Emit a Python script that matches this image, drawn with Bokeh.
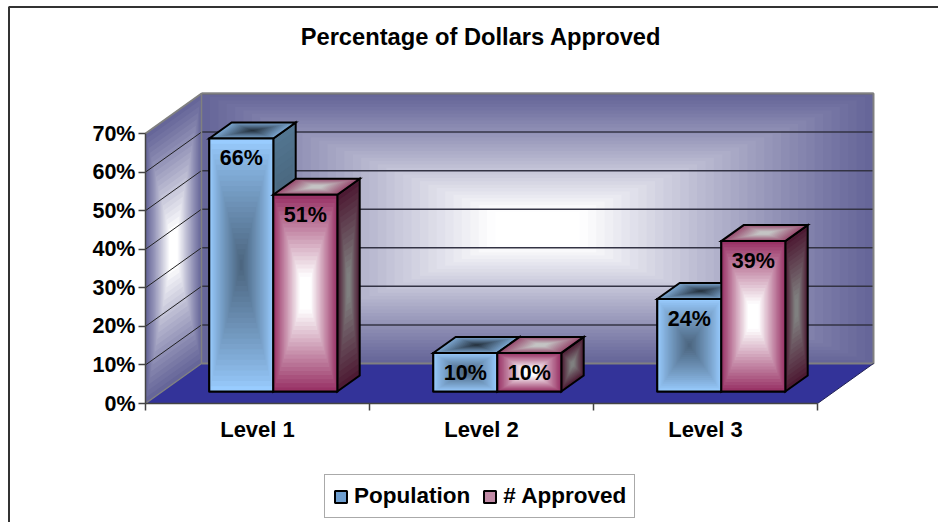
from bokeh.plotting import figure
from bokeh.models import Range1d, LinearAxis, FixedTicker, PrintfTickFormatter, Legend, LegendItem
from bokeh.core.properties import value
from bokeh.embed import file_html
from bokeh.resources import INLINE

# ---- data
categories = ["Level 1", "Level 2", "Level 3"]
population = [65.6, 10, 24]
approved = [51, 10, 39]
population_labels = ["66%", "10%", "24%"]
approved_labels = ["51%", "10%", "39%"]
y_ticks = [0, 10, 20, 30, 40, 50, 60, 70]
title_text = "Percentage of Dollars Approved"
series_names = ["Population", "# Approved"]

FONT = value("Liberation Sans")

# ---- scales: one category = 224 px, 10 % = 38.57 px
PX_X = 224.0
PX_Y = 3.857
X0, Y0 = 145.0, 403.0   # picture position of the origin
W, H = 938, 522


def px_x(px):
    return (px - X0) / PX_X


def px_y(py):
    return (Y0 - py) / PX_Y


DX = 56 / PX_X   # oblique shift of the full floor depth
DY = 40 / PX_Y


def proj(u, y, d):
    return (u + d * DX, y + d * DY)


def mix(c0, c1, m):
    a = [int(c0[i:i + 2], 16) for i in (1, 3, 5)]
    b = [int(c1[i:i + 2], 16) for i in (1, 3, 5)]
    return "#%02x%02x%02x" % tuple(round(p + (q - p) * m) for p, q in zip(a, b))


p = figure(width=W, height=H, x_range=Range1d(px_x(0), px_x(W)),
           y_range=Range1d(px_y(H), px_y(0)), x_axis_type=None, y_axis_type=None,
           output_backend="svg", toolbar_location=None, min_border=0,
           outline_line_color=None, background_fill_color="white",
           border_fill_color="white")


def face(quad, outer, inner, steps, plateau=1.0, power=1.0):
    """Rectangular path gradient: nested copies of a quad."""
    cx = sum(q[0] for q in quad) / 4
    cy = sum(q[1] for q in quad) / 4
    xs, ys, cols = [], [], []
    for i in range(steps):
        t = 1 - i / steps
        xs.append([cx + (q[0] - cx) * t for q in quad])
        ys.append([cy + (q[1] - cy) * t for q in quad])
        m = min(1.0, (i / (steps - 1)) / plateau) ** power
        cols.append(mix(outer, inner, m))
    p.patches(xs, ys, fill_color=cols, line_color=None)


# ---- outer frame of the chart (top and left only)
p.line([px_x(8.5), px_x(8.5), px_x(938)], [px_y(522), px_y(6.5), px_y(6.5)],
       line_color="#333333", line_width=2)

# ---- walls and floor
TOP = y_ticks[-1]
N = len(categories)
back = [proj(0, 0, 1), proj(N, 0, 1), proj(N, TOP, 1), proj(0, TOP, 1)]
side = [proj(0, 0, 0), proj(0, 0, 1), proj(0, TOP, 1), proj(0, TOP, 0)]
floor = [proj(0, 0, 0), proj(N, 0, 0), proj(N, 0, 1), proj(0, 0, 1)]
face(back, "#666699", "#ffffff", 40, plateau=0.88, power=1.1)
face(side, "#666699", "#ffffff", 24, plateau=0.88, power=1.1)
p.patch([q[0] for q in floor], [q[1] for q in floor], fill_color="#333399", line_color=None)

# gridlines
gy = y_ticks[1:]
p.segment([proj(0, v, 1)[0] for v in gy], [proj(0, v, 1)[1] for v in gy],
          [proj(N, v, 1)[0] for v in gy], [proj(N, v, 1)[1] for v in gy],
          line_color="#333344", line_width=1.5)
sy = y_ticks[1:-1]
p.segment([proj(0, v, 0)[0] for v in sy], [proj(0, v, 0)[1] for v in sy],
          [proj(0, v, 1)[0] for v in sy], [proj(0, v, 1)[1] for v in sy],
          line_color="#222222", line_width=1)
# wall edges
outline = [proj(0, 0, 0), proj(0, 0, 1), proj(N, 0, 1), proj(N, TOP, 1), proj(0, TOP, 1), proj(0, TOP, 0)]
p.line([q[0] for q in outline[1:5]], [q[1] for q in outline[1:5]], line_color="#808080", line_width=2)
p.line([outline[0][0], outline[1][0]], [outline[0][1], outline[1][1]], line_color="#808080", line_width=1.5)
p.line([proj(0, TOP, 0)[0], proj(0, TOP, 1)[0]], [proj(0, TOP, 0)[1], proj(0, TOP, 1)[1]],
       line_color="#808080", line_width=2)
p.line([proj(0, 0, 1)[0], proj(0, TOP, 1)[0]], [proj(0, 0, 1)[1], proj(0, TOP, 1)[1]],
       line_color="#808080", line_width=1.5)
p.line([proj(N, 0, 0)[0], proj(N, 0, 1)[0]], [proj(N, 0, 0)[1], proj(N, 0, 1)[1]],
       line_color="#222255", line_width=1)

# ---- bars
BAR_W = 2 / 7
MARGIN = 1.5 / 7 - 1 / PX_X
D0, D1 = 0.3, 0.7
legend_renderers = []
styles = [
    dict(key="#6f9fd0", front=("#99ccff", "#4c6680", 1.0, 0.85), side=("#527590", "#40566a", 1.0, 1.0),
         top=("#7ba5cf", "#263340", 1.0, 1.0)),
    dict(key="#c08aa5", front=("#993366", "#ffffff", 0.85, 1.0), side=("#4d1a33", "#808080", 0.9, 1.0),
         top=("#994d70", "#c4c4c4", 0.85, 1.0)),
]
for s, vals in enumerate([population, approved]):
    st = styles[s]
    lefts, rights, bottoms, tops = [], [], [], []
    for c, v in enumerate(vals):
        u0 = c + MARGIN + s * BAR_W
        x0, y0 = proj(u0, 0, D0)
        x1, y1 = proj(u0 + BAR_W, v, D0)
        lefts.append(x0); rights.append(x1); bottoms.append(y0); tops.append(y1)
    r = p.quad(left=lefts, right=rights, bottom=bottoms, top=tops,
               fill_color=st["key"], line_color="black", line_width=2)
    legend_renderers.append(r)

for c in range(N):
    for s, vals in enumerate([population, approved]):
        v = vals[c]
        st = styles[s]
        u0 = c + MARGIN + s * BAR_W
        u1 = u0 + BAR_W
        fq = [proj(u0, 0, D0), proj(u1, 0, D0), proj(u1, v, D0), proj(u0, v, D0)]
        sq = [proj(u1, 0, D0), proj(u1, 0, D1), proj(u1, v, D1), proj(u1, v, D0)]
        tq = [proj(u0, v, D0), proj(u1, v, D0), proj(u1, v, D1), proj(u0, v, D1)]
        for q, (a, b, pl, pw), n in ((sq, st["side"], 16), (tq, st["top"], 16), (fq, st["front"], 24)):
            face(q, a, b, n, plateau=pl, power=pw)
            p.patch([k[0] for k in q], [k[1] for k in q], fill_color=None, line_color="black",
                    line_width=2, line_join="miter")

# ---- value labels
for s, (vals, labs) in enumerate([(population, population_labels), (approved, approved_labels)]):
    xs = [proj(c + MARGIN + s * BAR_W + BAR_W / 2, 0, D0)[0] for c in range(N)]
    ys = [proj(0, v, D0)[1] for v in vals]
    p.text(xs, ys, text=labs, text_font=FONT, text_font_style="bold", text_font_size="21.5px",
           text_align="center", text_baseline="middle", text_color="black", y_offset=20)

# ---- title
p.text([px_x(480.5)], [px_y(36.5)], text=[title_text], text_font=FONT, text_font_style="bold",
       text_font_size="23.7px", text_align="center", text_baseline="middle", text_color="black")

# ---- axes
yax = LinearAxis(fixed_location=0, ticker=FixedTicker(ticks=y_ticks), bounds=(0, TOP),
                 formatter=PrintfTickFormatter(format="%d%%"))
yax.axis_line_color = "#444444"
yax.axis_line_width = 1.5
yax.major_tick_line_color = "#444444"
yax.major_tick_line_width = 1.5
yax.major_tick_in = 0
yax.major_tick_out = 7
yax.minor_tick_line_color = None
yax.major_label_standoff = 3
yax.major_label_text_font = "Liberation Sans"
yax.major_label_text_font_style = "bold"
yax.major_label_text_font_size = "21.5px"
yax.major_label_text_color = "black"
p.add_layout(yax, "left")

xax = LinearAxis(fixed_location=0, ticker=FixedTicker(ticks=list(range(N + 1))), bounds=(0, N))
xax.axis_line_color = "#444444"
xax.axis_line_width = 1.5
xax.major_tick_line_color = "#444444"
xax.major_tick_line_width = 1.5
xax.major_tick_in = 0
xax.major_tick_out = 7
xax.minor_tick_line_color = None
xax.major_label_text_font_size = "0px"
xax.major_label_text_color = None
p.add_layout(xax, "below")

cat_ticks = [i + 0.5 for i in range(N)]
cax = LinearAxis(fixed_location=0, ticker=FixedTicker(ticks=cat_ticks),
                 major_label_overrides={t: c for t, c in zip(cat_ticks, categories)})
cax.axis_line_color = None
cax.major_tick_line_color = None
cax.minor_tick_line_color = None
cax.major_tick_in = 0
cax.major_tick_out = 0
cax.major_label_standoff = 13
cax.major_label_text_font = "Liberation Sans"
cax.major_label_text_font_style = "bold"
cax.major_label_text_font_size = "22px"
cax.major_label_text_color = "black"
p.add_layout(cax, "below")

# ---- legend
legend = Legend(items=[LegendItem(label=series_names[i], renderers=[legend_renderers[i]]) for i in range(2)],
                orientation="horizontal", location=(324, 4), padding=8, margin=0, spacing=12,
                glyph_width=15, glyph_height=15, label_standoff=6,
                label_text_font="Liberation Sans", label_text_font_style="bold",
                label_text_font_size="22.5px", label_text_color="black",
                border_line_color="#555555", border_line_width=1.5,
                background_fill_color="white", background_fill_alpha=1)
p.add_layout(legend, "center")

# inner squares of the legend keys
key_x = [px_x(339.5), px_x(485)]
key_y = [px_y(496)] * 2
p.scatter(key_x, key_y, marker="square", size=11, fill_color=["#7aaadb", "#b06a8c"],
          line_color=None, level="overlay")
p.scatter(key_x, key_y, marker="square", size=6, fill_color=["#4c6680", "#f0e0e8"],
          line_color=None, level="overlay")

open("out.html", "w").write(file_html(p, INLINE))
